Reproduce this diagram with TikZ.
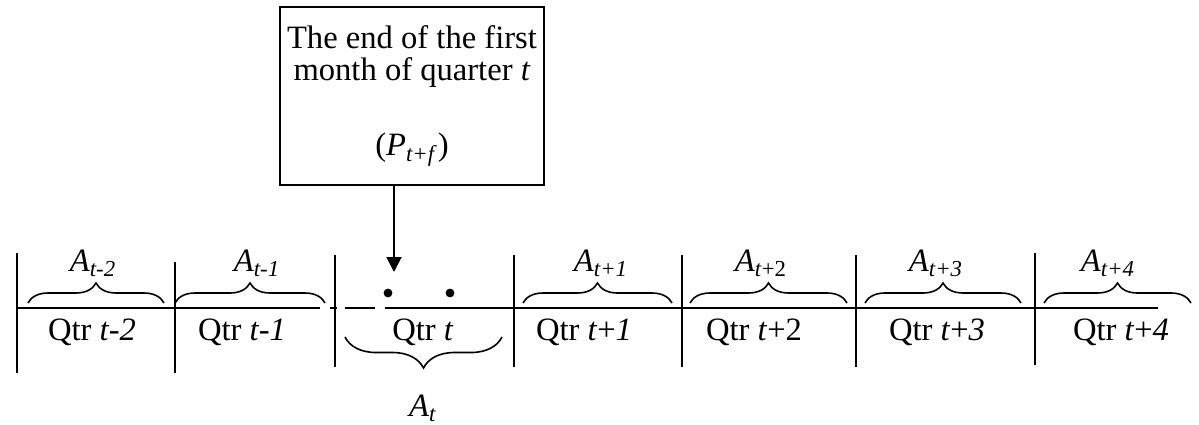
\documentclass[tikz,border=0pt]{standalone}
\usepackage{fontspec}
\setmainfont{Liberation Serif}
\usetikzlibrary{arrows.meta,decorations.pathreplacing}

\tikzset{
  txt/.style={font=\fontsize{16.3pt}{16.3pt}\selectfont, anchor=base, inner sep=0pt},
  bracetop/.style={decorate, decoration={brace, amplitude=10pt, aspect=0.5}, line width=0.8pt},
  bracebot/.style={decorate, decoration={brace, amplitude=15.5pt, aspect=0.5}, line width=0.8pt},
  dot/.style={circle, fill, inner sep=0pt, minimum size=4.4pt},
}

\begin{document}
\begin{tikzpicture}[x=0.5pt, y=-0.5pt, line width=1pt, >=Triangle]
    \useasboundingbox (0,0) rectangle (1199,424);

    \node[draw, minimum width=132pt, minimum height=89pt, align=center,
          font=\fontsize{16.3pt}{16pt}\selectfont] (box) at (412,96)
        {The end of the first\\ month of quarter \textit{t}\\[21.5pt]
         (\textit{P}\textsubscript{\textit{t+f}})};
    \coordinate (tip) at (394,272);
    \draw[-{Triangle[width=7.5pt,length=7.5pt]}] (box.south -| tip) -- (tip);

    % time line
    \draw[line width=0.8pt] (17,308) -- (320,308);
    \draw[line width=0.8pt] (330,308) -- (337,308);
    \draw[line width=0.8pt] (345,308) -- (375,308);
    \draw[line width=0.8pt] (385,308) -- (1158,308);
    \node[dot] (d1) at (388,293) {};
    \node[dot] (d2) at (450,293) {};

    \foreach \xx/\ya/\yb in {17/253/373, 175/262/373, 335/255/367, 514/255/367,
                             682/255/367, 856/255/367, 1035/253/365}
        \draw (\xx,\ya) -- (\xx,\yb);

    \foreach \xa/\xb/\xl/\sub [count=\i] in {28/164/93/{\textit{t-2}}, 175/325/257/{\textit{t-1}},
            523/672/601/{\textit{t+1}}, 690/847/761/{\textit{t}+2},
            865/1021/936/{\textit{t+3}}, 1044/1191/1108/{\textit{t+4}}} {
        \draw[bracetop] (\xa,303) -- (\xb,303);
        \node[txt] (a\i) at (\xl,271) {\textit{A}\textsubscript{\sub}};
    }

    \foreach \xl/\lab [count=\i] in {92/{\textit{t-2}}, 242/{\textit{t-1}}, 584/{\textit{t}+\textit{1}},
            754/{\textit{t}+2}, 937/{\textit{t}+\textit{3}}, 1121/{\textit{t}+\textit{4}}}
        \node[txt] (q\i) at (\xl,340) {Qtr \lab};

    \node[txt] (qt) at (423,340) {Qtr \textit{t}};
    \draw[bracebot] (502,337) -- (345,337);
    \node[txt] (at) at (423,416) {\textit{A}\textsubscript{\textit{t}}};
\end{tikzpicture}
\end{document}
